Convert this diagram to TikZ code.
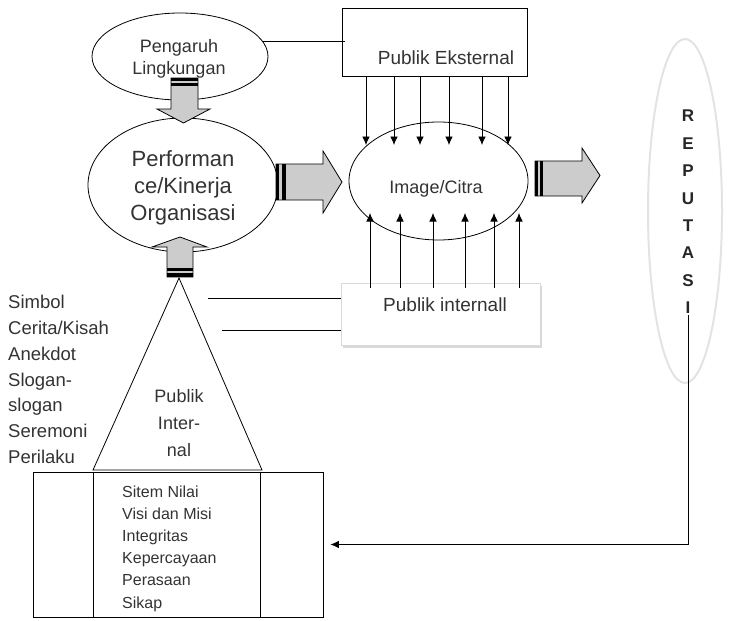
\documentclass[tikz,border=0pt]{standalone}
\usepackage{fontspec}
\setmainfont{Liberation Sans}
\usetikzlibrary{shapes.geometric,arrows.meta,shadows}
\begin{document}
\begin{tikzpicture}[x=1pt,y=-1pt,
  txt/.style={text=black!80, inner sep=0pt},
  conn/.style={draw=black, line width=0.8pt},
  tip/.style={-{Latex[length=8.5pt,width=7.5pt]}},
  oval/.style={ellipse, draw=black, line width=0.8pt, inner sep=0pt, fill=white},
  blockarrow/.style={fill=gray!40, draw=black, line width=0.8pt, line join=miter},
  stripe/.style={fill=black}
]
\useasboundingbox (0,0) rectangle (731,621);

% ---- ovals
\node[oval, minimum width=176pt, minimum height=87pt] (pl) at (180,56.5) {};
\node[txt, align=center, font=\fontsize{18}{22}\selectfont] (plt) at (179,59) {Pengaruh\\Lingkungan};

\node[oval, minimum width=190pt, minimum height=134pt] (po) at (183,185) {};
\node[txt, align=center, font=\fontsize{22}{27}\selectfont] (pot) at (183,188) {Performan\\ce/Kinerja\\Organisasi};

\node[oval, minimum width=179pt, minimum height=118pt] (ic) at (438.5,181) {};
\node[txt, font=\fontsize{18}{22}\selectfont] (ict) at (436,189) {Image/Citra};

\node[ellipse, draw=gray!22, line width=2pt, minimum width=74pt, minimum height=344pt, inner sep=0pt] (rep) at (685,211) {};
\node[inner sep=1pt, align=center, font=\fontsize{17}{27.4}\bfseries\selectfont, text=black!85] (rt) at (688,212) {R\\E\\P\\U\\T\\A\\S\\I};

% ---- boxes
\node[draw=black, line width=0.8pt, minimum width=185pt, minimum height=68pt, inner sep=0pt] (pe) at (434.5,42) {};
\node[txt, font=\fontsize{19}{22}\selectfont] (pet) at (446,58) {Publik Eksternal};

\node[draw=gray!30, line width=0.6pt, fill=white, minimum width=199pt, minimum height=62pt, inner sep=0pt,
      drop shadow={shadow xshift=2pt, shadow yshift=-2.5pt, opacity=0.3, fill=gray}] (pi) at (440.5,314) {};
\node[txt, font=\fontsize{19}{22}\selectfont] (pit) at (445,305) {Publik internall};

\node[draw=black, line width=0.8pt, minimum width=290pt, minimum height=145pt, inner sep=0pt] (bb) at (178,544.5) {};
\draw[conn] (bb.north -| 93,0) -- (bb.south -| 93,0);
\draw[conn] (bb.north -| 260,0) -- (bb.south -| 260,0);
\node[txt, anchor=west, align=left, font=\fontsize{16}{22.2}\selectfont] (bbt) at (122,548.5)
  {Sitem Nilai\\Visi dan Misi\\Integritas\\Kepercayaan\\Perasaan\\Sikap};

% ---- triangle
\draw[conn, line join=miter] (179,278) -- (262,470) -- (93,470) -- cycle;
\node[txt, align=center, font=\fontsize{18}{27}\selectfont] (trt) at (179,423) {Publik\\Inter-\\nal};

% ---- left list
\node[txt, anchor=west, align=left, font=\fontsize{18.5}{25.8}\selectfont] (list) at (8,379.5)
  {Simbol\\Cerita/Kisah\\Anekdot\\Slogan-\\slogan\\Seremoni\\Perilaku};

% ---- block arrows
% down (Pengaruh -> Performance)
\draw[blockarrow] (171,78) -- (198,78) -- (198,109) -- (210,109) -- (183.5,123) -- (157,109) -- (171,109) -- cycle;
\fill[stripe] (171,78) rectangle (198,80.7);
\fill[stripe] (171,82.7) rectangle (198,85.5);
% up (triangle -> Performance)
\draw[blockarrow] (167,277) -- (167,247) -- (152,247) -- (180,237) -- (207,247) -- (193,247) -- (193,277) -- cycle;
\fill[stripe] (167,268) rectangle (193,270.5);
\fill[stripe] (167,273) rectangle (193,277);
% right (Performance -> Image)
\draw[blockarrow] (276,164) -- (323,164) -- (323,151) -- (342,182) -- (323,213) -- (323,200) -- (276,200) -- cycle;
\fill[stripe] (276,164) rectangle (279.3,200);
\fill[stripe] (282,164) rectangle (286,200);
% right (Image -> Reputasi)
\draw[blockarrow] (535,161) -- (582,161) -- (582,148) -- (600,175.5) -- (582,203) -- (582,196) -- (535,196) -- cycle;
\fill[stripe] (535,161) rectangle (538,196);
\fill[stripe] (540,161) rectangle (543,196);

% ---- connectors
\draw[conn] (pl.10) -- ([xshift=3pt]pe.west |- pl.10);
\foreach \x in {366,394,420,449,482,508}
  \draw[conn,tip] (pe.south -| \x,0) -- (\x,145);
\foreach \x in {370,400,433,465,494,519}
  \draw[conn,tip] ([yshift=-5pt]pi.north -| \x,0) -- (\x,213);
\coordinate (l1) at (208,298);
\coordinate (l2) at (222,330);
\draw[conn] (l1) -- (pi.west |- l1);
\draw[conn] (l2) -- (pi.west |- l2);
\draw[conn,tip] (rt.south) |- ([xshift=7pt]bb.east);
\end{tikzpicture}
\end{document}
